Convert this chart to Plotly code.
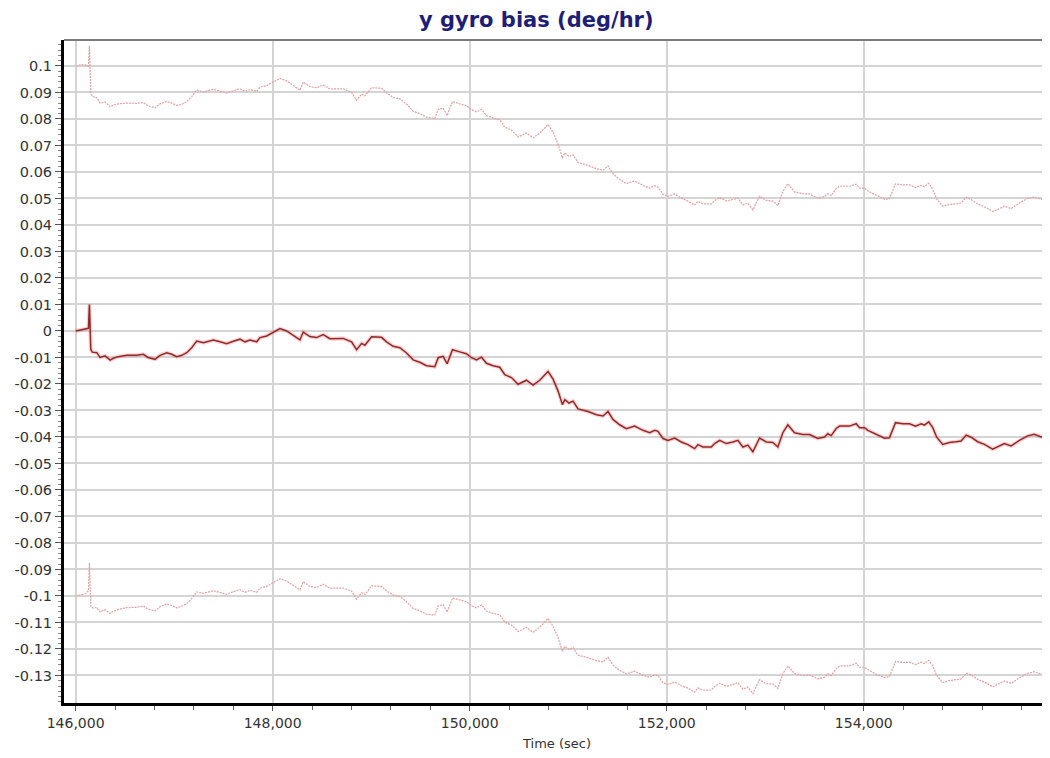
import plotly.graph_objects as go

time_sec = [
    146000, 146046, 146096, 146130, 146140, 146154, 146170, 146215, 146248, 146299,
    146350, 146383, 146431, 146519, 146621, 146688, 146735, 146806, 146857, 146925,
    146976, 147026, 147077, 147128, 147178, 147229, 147296, 147398, 147466, 147533,
    147600, 147668, 147719, 147770, 147838, 147871, 147939, 148006, 148074, 148142,
    148209, 148277, 148310, 148378, 148446, 148513, 148581, 148665, 148716, 148801,
    148852, 148903, 148936, 149004, 149105, 149156, 149223, 149291, 149359, 149426,
    149494, 149562, 149646, 149680, 149730, 149771, 149825, 149899, 149967, 150018,
    150069, 150120, 150170, 150237, 150305, 150356, 150424, 150491, 150576, 150643,
    150711, 150795, 150846, 150897, 150941, 150965, 151008, 151049, 151099, 151201,
    151286, 151353, 151404, 151454, 151522, 151590, 151674, 151759, 151827, 151877,
    151911, 151962, 152012, 152080, 152148, 152215, 152283, 152316, 152367, 152452,
    152486, 152537, 152604, 152671, 152722, 152773, 152823, 152874, 152942, 153010,
    153077, 153128, 153178, 153229, 153297, 153381, 153449, 153533, 153601, 153635,
    153669, 153720, 153754, 153855, 153923, 153957, 154008, 154041, 154092, 154143,
    154211, 154260, 154295, 154322, 154396, 154464, 154525, 154582, 154615, 154659,
    154700, 154740, 154801, 154869, 154937, 154988, 155039, 155089, 155156, 155224,
    155308, 155359, 155427, 155495, 155579, 155663, 155731, 155799, 155833,
]

bias = [
    0.0000, 0.0004, 0.0006, 0.0010, 0.0100, -0.0070, -0.0080, -0.0082, -0.0100, -0.0094,
    -0.0110, -0.0103, -0.0097, -0.0092, -0.0092, -0.0088, -0.0100, -0.0107, -0.0092, -0.0082,
    -0.0088, -0.0097, -0.0092, -0.0082, -0.0063, -0.0038, -0.0044, -0.0034, -0.0041, -0.0048,
    -0.0039, -0.0031, -0.0041, -0.0034, -0.0041, -0.0025, -0.0019, -0.0004, 0.0009, 0.0000,
    -0.0016, -0.0034, -0.0004, -0.0021, -0.0025, -0.0014, -0.0029, -0.0030, -0.0028, -0.0041,
    -0.0071, -0.0047, -0.0054, -0.0022, -0.0024, -0.0041, -0.0058, -0.0063, -0.0083, -0.0109,
    -0.0118, -0.0131, -0.0135, -0.0101, -0.0096, -0.0124, -0.0071, -0.0079, -0.0086, -0.0101,
    -0.0109, -0.0099, -0.0122, -0.0131, -0.0137, -0.0165, -0.0176, -0.0201, -0.0186, -0.0204,
    -0.0186, -0.0153, -0.0182, -0.0227, -0.0278, -0.0259, -0.0272, -0.0265, -0.0294, -0.0304,
    -0.0316, -0.0321, -0.0304, -0.0334, -0.0354, -0.0369, -0.0359, -0.0375, -0.0384, -0.0375,
    -0.0379, -0.0406, -0.0413, -0.0404, -0.0419, -0.0429, -0.0444, -0.0429, -0.0438, -0.0438,
    -0.0425, -0.0413, -0.0425, -0.0419, -0.0413, -0.0438, -0.0431, -0.0456, -0.0404, -0.0419,
    -0.0421, -0.0438, -0.0384, -0.0354, -0.0384, -0.0391, -0.0391, -0.0406, -0.0400, -0.0388,
    -0.0395, -0.0368, -0.0359, -0.0359, -0.0350, -0.0365, -0.0365, -0.0375, -0.0384, -0.0396,
    -0.0405, -0.0403, -0.0371, -0.0346, -0.0350, -0.0350, -0.0359, -0.0350, -0.0355, -0.0343,
    -0.0365, -0.0401, -0.0428, -0.0421, -0.0418, -0.0415, -0.0393, -0.0401, -0.0418, -0.0428,
    -0.0446, -0.0438, -0.0425, -0.0434, -0.0413, -0.0396, -0.0390, -0.0400, -0.0396,
]

sigma = [
    0.1000, 0.1000, 0.0998, 0.0990, 0.0975, 0.0968, 0.0965, 0.0962, 0.0960, 0.0958,
    0.0956, 0.0955, 0.0954, 0.0952, 0.0951, 0.0950, 0.0950, 0.0949, 0.0949, 0.0948,
    0.0948, 0.0948, 0.0947, 0.0947, 0.0947, 0.0947, 0.0946, 0.0946, 0.0946, 0.0946,
    0.0945, 0.0945, 0.0945, 0.0945, 0.0945, 0.0945, 0.0945, 0.0944, 0.0944, 0.0944,
    0.0944, 0.0943, 0.0943, 0.0943, 0.0943, 0.0942, 0.0942, 0.0942, 0.0942, 0.0941,
    0.0941, 0.0941, 0.0941, 0.0940, 0.0940, 0.0940, 0.0939, 0.0939, 0.0939, 0.0938,
    0.0938, 0.0938, 0.0937, 0.0937, 0.0937, 0.0937, 0.0937, 0.0936, 0.0936, 0.0936,
    0.0936, 0.0935, 0.0935, 0.0935, 0.0934, 0.0934, 0.0934, 0.0933, 0.0933, 0.0933,
    0.0932, 0.0932, 0.0932, 0.0931, 0.0931, 0.0931, 0.0930, 0.0930, 0.0930, 0.0929,
    0.0928, 0.0928, 0.0927, 0.0927, 0.0926, 0.0925, 0.0925, 0.0924, 0.0923, 0.0923,
    0.0922, 0.0922, 0.0921, 0.0921, 0.0920, 0.0919, 0.0919, 0.0918, 0.0918, 0.0917,
    0.0917, 0.0916, 0.0916, 0.0915, 0.0914, 0.0914, 0.0913, 0.0913, 0.0912, 0.0912,
    0.0911, 0.0911, 0.0910, 0.0910, 0.0909, 0.0909, 0.0908, 0.0907, 0.0907, 0.0906,
    0.0906, 0.0906, 0.0905, 0.0905, 0.0904, 0.0904, 0.0904, 0.0903, 0.0903, 0.0903,
    0.0902, 0.0902, 0.0902, 0.0901, 0.0901, 0.0901, 0.0900, 0.0900, 0.0900, 0.0900,
    0.0899, 0.0899, 0.0899, 0.0898, 0.0898, 0.0898, 0.0898, 0.0897, 0.0897, 0.0897,
    0.0897, 0.0896, 0.0896, 0.0896, 0.0896, 0.0896, 0.0896, 0.0896, 0.0896,
]

upper = [b + s for b, s in zip(bias, sigma)]
lower = [b - s for b, s in zip(bias, sigma)]

x_ticks = [146000, 148000, 150000, 152000, 154000]
x_tick_labels = ["146,000", "148,000", "150,000", "152,000", "154,000"]
y_ticks = [round(-0.13 + 0.01 * i, 2) for i in range(24)]
y_tick_labels = [("%g" % v) for v in y_ticks]

title_text = "y gyro bias (deg/hr)"
x_title = "Time (sec)"

fig = go.Figure()

bound_style = dict(color="#e6a0a0", width=1.2, dash="2px,1px")
fig.add_trace(go.Scatter(x=time_sec, y=upper, mode="lines", line=bound_style,
                         hoverinfo="skip", showlegend=False))
fig.add_trace(go.Scatter(x=time_sec, y=lower, mode="lines", line=bound_style,
                         hoverinfo="skip", showlegend=False))
# soft halo under the main line
fig.add_trace(go.Scatter(x=time_sec, y=bias, mode="lines",
                         line=dict(color="rgba(235,110,110,0.30)", width=4),
                         hoverinfo="skip", showlegend=False))
fig.add_trace(go.Scatter(x=time_sec, y=bias, mode="lines",
                         line=dict(color="#922a2a", width=1.5),
                         showlegend=False))

# The page body has an 8px margin, so the figure is sized to fill the rest of the window.
fig.update_layout(
    width=1042, height=750,
    margin=dict(l=56, r=0, t=32, b=55, autoexpand=False),
    paper_bgcolor="white", plot_bgcolor="white",
    title=dict(text="<b>" + title_text + "</b>", x=0.507, xanchor="center",
               y=0.994, yanchor="top", automargin=False,
               font=dict(family="DejaVu Sans", size=21, color="#1e1e78")),
    font=dict(family="DejaVu Sans", size=14, color="#333333"),
)

fig.update_xaxes(
    range=[145882, 155890], automargin=False,
    tickmode="array", tickvals=x_ticks, ticktext=x_tick_labels,
    tickfont=dict(family="DejaVu Sans", size=14, color="#333333"),
    showgrid=True, gridcolor="#d4d4d4", gridwidth=2,
    showline=True, linecolor="black", linewidth=3,
    ticks="outside", ticklen=5, tickcolor="#555555", tickwidth=1,
    minor=dict(dtick=400, tick0=146000, ticks="outside", ticklen=4,
               tickcolor="#666666", showgrid=False),
    zeroline=False,
    title=dict(text=x_title, font=dict(family="DejaVu Sans", size=13, color="#333333"),
               standoff=10),
)

fig.update_yaxes(
    range=[-0.1404, 0.1098], automargin=False,
    tickmode="array", tickvals=y_ticks, ticktext=y_tick_labels,
    tickfont=dict(family="DejaVu Sans", size=14.5, color="#333333"),
    showgrid=True, gridcolor="#d4d4d4", gridwidth=2,
    showline=True, linecolor="black", linewidth=3,
    ticks="outside", ticklen=6, tickcolor="#555555", tickwidth=1,
    minor=dict(dtick=0.002, tick0=0, ticks="outside", ticklen=3,
               tickcolor="#888888", showgrid=False),
    zeroline=False,
)

fig.add_shape(type="line", xref="paper", yref="paper", x0=0, x1=1, y0=1, y1=1,
              line=dict(color="#7a7a7a", width=2))

fig.write_html("out.html")
